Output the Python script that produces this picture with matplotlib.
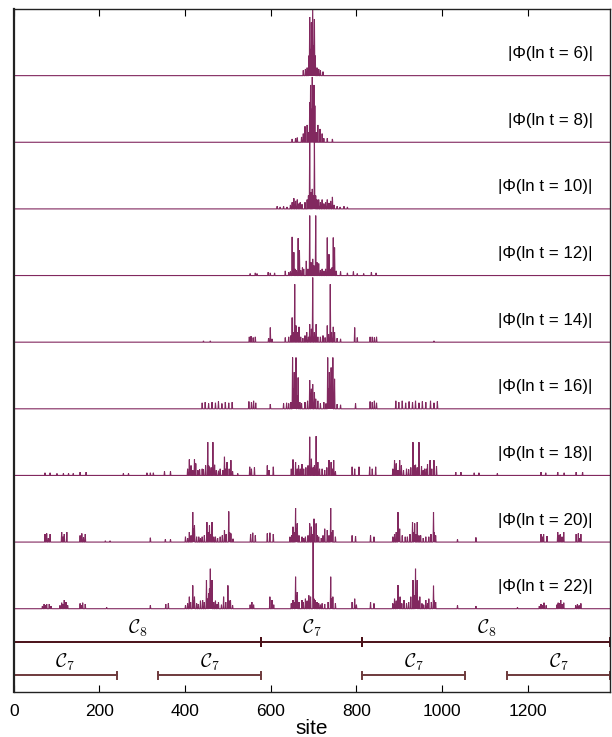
"""
Stacked wave-packet snapshots |Phi(ln t)| along the chain, with the
C7 / C8 block structure drawn underneath.
"""

import numpy as np
import matplotlib
matplotlib.use('Agg')
import matplotlib.pyplot as plt

plt.rcParams.update({
    'font.family': ['Liberation Sans', 'DejaVu Sans'],
})

N_SITES = 1392
TRACE = '#82285f'

# ---------------------------------------------------------------
# Peaks: (site, |Phi|) in units of one panel
# ---------------------------------------------------------------
peaks_t6 = [(676, 0.08), (681, 0.1), (685, 0.12), (689, 0.3), (691, 0.88),
            (693, 0.4), (695, 0.8), (697, 0.5), (698, 1.05), (700, 0.45),
            (702, 0.85), (704, 0.3), (708, 0.12), (712, 0.1), (716, 0.08),
            (722, 0.06)]

peaks_t8 = [(650, 0.05), (658, 0.06), (662, 0.07), (672, 0.08), (676, 0.13),
            (680, 0.24), (685, 0.26), (688, 0.15), (691, 0.6), (693, 0.86),
            (695, 0.5), (697, 0.98), (699, 0.45), (701, 0.86), (703, 0.55),
            (706, 0.15), (710, 0.26), (715, 0.2), (720, 0.13), (724, 0.06),
            (732, 0.06), (744, 0.05)]

peaks_t10 = [(615, 0.04), (622, 0.03), (630, 0.04), (638, 0.03), (646, 0.06),
             (650, 0.1), (654, 0.16), (658, 0.12), (662, 0.14), (666, 0.08),
             (669, 0.1), (673, 0.07), (680, 0.1), (685, 0.14), (688, 0.2),
             (691, 1.02), (694, 0.25), (697, 0.3), (700, 0.2), (702, 1.02),
             (705, 0.2), (708, 0.14), (712, 0.14), (716, 0.1), (720, 0.14),
             (724, 0.08), (728, 0.1), (732, 0.14), (736, 0.09), (740, 0.12),
             (744, 0.18), (748, 0.06), (755, 0.04), (762, 0.03), (771, 0.04),
             (779, 0.03)]

peaks_t12 = [(552, 0.03), (564, 0.04), (568, 0.03), (594, 0.05), (599, 0.04),
             (609, 0.04), (634, 0.07), (642, 0.05), (646, 0.06), (650, 0.58),
             (652, 0.15), (654, 0.35), (657, 0.1), (660, 0.08), (664, 0.56),
             (667, 0.38), (670, 0.08), (674, 0.12), (677, 0.1), (683, 0.22),
             (687, 0.1), (691, 0.9), (694, 0.2), (698, 0.25), (701, 0.15),
             (705, 0.9), (708, 0.2), (712, 0.18), (716, 0.08), (720, 0.1),
             (724, 0.07), (728, 0.1), (732, 0.57), (736, 0.32), (739, 0.1),
             (743, 0.12), (746, 0.57), (749, 0.42), (753, 0.07), (763, 0.06),
             (779, 0.04), (793, 0.06), (802, 0.03), (817, 0.03), (835, 0.05),
             (846, 0.04)]

peaks_t14 = [(443, 0.02), (459, 0.02), (550, 0.08), (554, 0.09), (559, 0.07),
             (564, 0.08), (595, 0.06), (599, 0.22), (603, 0.05), (634, 0.07),
             (642, 0.08), (647, 0.1), (650, 0.37), (653, 0.15), (656, 0.87),
             (659, 0.25), (663, 0.15), (666, 0.23), (670, 0.08), (675, 0.06),
             (680, 0.1), (684, 0.15), (688, 0.08), (691, 0.27), (695, 0.2),
             (698, 0.97), (702, 0.15), (706, 0.27), (710, 0.08), (716, 0.08),
             (722, 0.1), (727, 0.07), (732, 0.25), (735, 0.12), (739, 0.87),
             (742, 0.15), (746, 0.23), (749, 0.15), (755, 0.06), (763, 0.05),
             (796, 0.22), (802, 0.07), (832, 0.08), (837, 0.08), (842, 0.07),
             (847, 0.08), (981, 0.02)]

peaks_t16 = [(440, 0.09), (447, 0.1), (455, 0.08), (463, 0.1), (471, 0.09),
             (478, 0.11), (486, 0.08), (494, 0.1), (502, 0.09), (510, 0.1),
             (549, 0.11), (555, 0.1), (560, 0.12), (565, 0.09), (599, 0.07),
             (630, 0.08), (637, 0.09), (642, 0.08), (647, 0.1), (651, 0.77),
             (653, 0.3), (655, 0.55), (657, 0.35), (659, 0.77), (662, 0.2),
             (664, 0.47), (668, 0.1), (672, 0.08), (680, 0.1), (686, 0.12),
             (691, 0.43), (694, 0.2), (695, 0.3), (698, 0.37), (702, 0.25),
             (705, 0.15), (710, 0.12), (716, 0.08), (724, 0.1), (729, 0.08),
             (733, 0.77), (735, 0.3), (737, 0.55), (739, 0.3), (741, 0.62),
             (743, 0.35), (745, 0.77), (749, 0.45), (755, 0.07), (763, 0.06),
             (798, 0.08), (832, 0.11), (837, 0.1), (842, 0.12), (847, 0.09),
             (892, 0.12), (899, 0.1), (907, 0.12), (915, 0.09), (923, 0.11),
             (931, 0.1), (938, 0.12), (946, 0.09), (954, 0.11), (962, 0.1),
             (973, 0.12), (981, 0.09), (989, 0.11)]

peaks_t18 = [(73, 0.04), (85, 0.04), (101, 0.03), (116, 0.03), (128, 0.03),
             (139, 0.03), (155, 0.05), (169, 0.05), (256, 0.03), (268, 0.03),
             (311, 0.04), (319, 0.04), (326, 0.04), (352, 0.06), (366, 0.06),
             (406, 0.1), (410, 0.24), (414, 0.15), (418, 0.08), (422, 0.24),
             (425, 0.18), (430, 0.08), (434, 0.09), (440, 0.1), (443, 0.09),
             (448, 0.15), (453, 0.5), (455, 0.15), (457, 0.13), (461, 0.12),
             (465, 0.5), (469, 0.16), (473, 0.08), (478, 0.07), (482, 0.1),
             (488, 0.08), (492, 0.28), (495, 0.1), (498, 0.2), (503, 0.1),
             (507, 0.23), (511, 0.06), (523, 0.03), (551, 0.13), (555, 0.1),
             (562, 0.12), (592, 0.15), (596, 0.08), (606, 0.13), (648, 0.1),
             (652, 0.24), (658, 0.2), (662, 0.1), (665, 0.15), (669, 0.1),
             (673, 0.17), (677, 0.1), (682, 0.12), (687, 0.15), (691, 0.58),
             (695, 0.25), (699, 0.12), (702, 0.15), (706, 0.59), (710, 0.2),
             (714, 0.1), (720, 0.1), (726, 0.08), (731, 0.12), (736, 0.23),
             (741, 0.2), (744, 0.1), (747, 0.23), (751, 0.06), (790, 0.13),
             (796, 0.1), (806, 0.13), (831, 0.13), (837, 0.1), (845, 0.13),
             (885, 0.1), (889, 0.23), (893, 0.18), (897, 0.08), (901, 0.23),
             (905, 0.15), (910, 0.08), (917, 0.1), (922, 0.09), (927, 0.12),
             (932, 0.5), (935, 0.15), (938, 0.16), (942, 0.12), (946, 0.5),
             (952, 0.14), (956, 0.08), (959, 0.1), (963, 0.1), (966, 0.17),
             (972, 0.23), (976, 0.1), (981, 0.23), (987, 0.14), (1032, 0.05),
             (1044, 0.05), (1075, 0.04), (1086, 0.04), (1129, 0.03),
             (1231, 0.05), (1242, 0.04), (1270, 0.05), (1285, 0.04),
             (1313, 0.05), (1328, 0.05)]

peaks_t20 = [(73, 0.12), (77, 0.13), (81, 0.06), (85, 0.12), (112, 0.15),
             (115, 0.08), (118, 0.12), (124, 0.15), (155, 0.1), (159, 0.13),
             (163, 0.07), (167, 0.12), (214, 0.02), (225, 0.02), (319, 0.065),
             (354, 0.04), (366, 0.04), (401, 0.08), (406, 0.06), (410, 0.15),
             (414, 0.1), (418, 0.45), (420, 0.2), (422, 0.25), (427, 0.08),
             (432, 0.08), (436, 0.06), (440, 0.08), (445, 0.1), (451, 0.3),
             (454, 0.15), (457, 0.25), (460, 0.12), (463, 0.3), (467, 0.08),
             (471, 0.08), (476, 0.06), (482, 0.08), (487, 0.1), (492, 0.18),
             (496, 0.12), (502, 0.46), (504, 0.15), (507, 0.13), (512, 0.05),
             (553, 0.12), (558, 0.14), (564, 0.1), (592, 0.13), (598, 0.14),
             (606, 0.12), (645, 0.08), (649, 0.1), (652, 0.23), (655, 0.15),
             (658, 0.51), (660, 0.2), (662, 0.28), (666, 0.1), (673, 0.08),
             (677, 0.06), (681, 0.08), (687, 0.1), (691, 0.28), (695, 0.23),
             (698, 0.12), (701, 0.35), (706, 0.28), (709, 0.1), (712, 0.08),
             (718, 0.06), (722, 0.1), (726, 0.2), (732, 0.18), (736, 0.1),
             (740, 0.51), (742, 0.15), (745, 0.18), (751, 0.08), (790, 0.1),
             (798, 0.09), (833, 0.1), (841, 0.08), (885, 0.08), (889, 0.12),
             (893, 0.15), (897, 0.45), (899, 0.15), (901, 0.2), (907, 0.1),
             (914, 0.08), (919, 0.08), (925, 0.12), (931, 0.3), (934, 0.15),
             (936, 0.28), (939, 0.12), (942, 0.3), (946, 0.1), (950, 0.1),
             (956, 0.06), (962, 0.08), (969, 0.08), (974, 0.12), (980, 0.45),
             (982, 0.15), (985, 0.1), (1036, 0.04), (1079, 0.07),
             (1231, 0.12), (1234, 0.08), (1237, 0.12), (1245, 0.09),
             (1270, 0.15), (1273, 0.1), (1276, 0.12), (1280, 0.08),
             (1284, 0.15), (1313, 0.12), (1318, 0.13), (1321, 0.06),
             (1324, 0.12)]

peaks_t22 = [(67, 0.04), (71, 0.07), (74, 0.05), (77, 0.07), (83, 0.07),
             (87, 0.04), (108, 0.05), (112, 0.09), (115, 0.07), (118, 0.13),
             (122, 0.1), (126, 0.05), (155, 0.08), (158, 0.05), (161, 0.09),
             (167, 0.07), (217, 0.02), (319, 0.05), (355, 0.07), (361, 0.08),
             (401, 0.05), (406, 0.08), (410, 0.18), (413, 0.1), (418, 0.35),
             (420, 0.12), (422, 0.18), (427, 0.08), (431, 0.07), (436, 0.12),
             (441, 0.13), (445, 0.1), (450, 0.43), (452, 0.15), (455, 0.23),
             (457, 0.3), (459, 0.6), (461, 0.2), (463, 0.43), (467, 0.1),
             (471, 0.12), (475, 0.07), (478, 0.1), (485, 0.06), (490, 0.18),
             (495, 0.1), (500, 0.35), (503, 0.12), (506, 0.13), (511, 0.05),
             (552, 0.06), (556, 0.1), (560, 0.06), (598, 0.18), (603, 0.13),
             (607, 0.06), (648, 0.08), (652, 0.13), (654, 0.1), (658, 0.48),
             (660, 0.2), (662, 0.25), (666, 0.1), (673, 0.13), (676, 0.1),
             (681, 0.15), (685, 0.12), (689, 0.2), (693, 0.18), (699, 1.05),
             (701, 0.15), (704, 0.13), (708, 0.1), (712, 0.08), (716, 0.06),
             (720, 0.08), (726, 0.07), (734, 0.1), (740, 0.48), (742, 0.15),
             (745, 0.18), (751, 0.08), (790, 0.1), (796, 0.15), (800, 0.06),
             (833, 0.1), (841, 0.08), (885, 0.08), (889, 0.15), (893, 0.12),
             (897, 0.355), (899, 0.12), (902, 0.18), (906, 0.08), (911, 0.13),
             (917, 0.08), (922, 0.1), (927, 0.18), (932, 0.43), (935, 0.2),
             (938, 0.6), (940, 0.25), (942, 0.43), (945, 0.12), (948, 0.18),
             (953, 0.08), (957, 0.06), (962, 0.13), (966, 0.08), (969, 0.15),
             (975, 0.1), (980, 0.345), (982, 0.12), (985, 0.1), (1036, 0.05),
             (1079, 0.04), (1176, 0.02), (1227, 0.04), (1231, 0.07),
             (1234, 0.05), (1238, 0.09), (1243, 0.05), (1268, 0.06),
             (1271, 0.09), (1274, 0.08), (1277, 0.13), (1280, 0.07),
             (1284, 0.09), (1312, 0.05), (1316, 0.07), (1320, 0.05),
             (1324, 0.08)]

snapshots = [6, 8, 10, 12, 14, 16, 18, 20, 22]
peak_lists = [peaks_t6, peaks_t8, peaks_t10, peaks_t12, peaks_t14,
              peaks_t16, peaks_t18, peaks_t20, peaks_t22]

# Block decomposition of the chain
blocks_c8_row = [(0, 578, r'$\mathcal{C}_8$'), (578, 814, r'$\mathcal{C}_7$'),
                 (814, 1392, r'$\mathcal{C}_8$')]
blocks_c7_row = [(0, 240, r'$\mathcal{C}_7$'), (338, 578, r'$\mathcal{C}_7$'),
                 (814, 1054, r'$\mathcal{C}_7$'), (1152, 1392, r'$\mathcal{C}_7$')]

# ---------------------------------------------------------------
fig = plt.figure(figsize=(6.12, 7.37), dpi=100)
ax = fig.add_axes([13.7 / 612, 45 / 737, 596.3 / 612, 683 / 737])

sites = np.arange(N_SITES + 1)
n_panels = len(snapshots)
for k, (lnt, pk) in enumerate(zip(snapshots, peak_lists)):
    base = 1.25 + (n_panels - 1 - k)
    amp = np.zeros(N_SITES + 1)
    for s, h in pk:
        amp[s] = h
    ax.plot(sites, base + amp, color=TRACE, lw=0.8, solid_joinstyle='miter')
    ax.text(1352, base + 0.33, '|\u03a6(ln t = %d)|' % lnt,
            ha='right', va='center', fontsize=12.2)

# C8 / C7 row bars
for row_y, blocks, col in [(0.75, blocks_c8_row, '#4a1018'),
                           (0.25, blocks_c7_row, '#6e3a3c')]:
    for x0, x1, lab in blocks:
        ax.plot([x0, x1], [row_y, row_y], color=col, lw=1.4)
        for xe in (x0, x1):
            ax.plot([xe, xe], [row_y - 0.055, row_y + 0.055], color=col, lw=1.4)
        ax.text((x0 + x1) / 2, row_y + 0.2, lab, ha='center', va='center',
                fontsize=14, math_fontfamily='cm')

ax.set_xlim(0, N_SITES)
ax.set_ylim(0, 10.25)
ax.set_yticks([])
ax.set_xticks([0, 200, 400, 600, 800, 1000, 1200])
ax.tick_params(axis='x', direction='in', top=True, length=5, width=0.8,
               labelsize=12.5, pad=9)
for sp in ax.spines.values():
    sp.set_color('#222222')
    sp.set_linewidth(1.0)
ax.spines['left'].set_linewidth(1.6)
ax.set_xlabel('site', fontsize=15, labelpad=0)

fig.savefig('out.png', dpi=100)
plt.close()
